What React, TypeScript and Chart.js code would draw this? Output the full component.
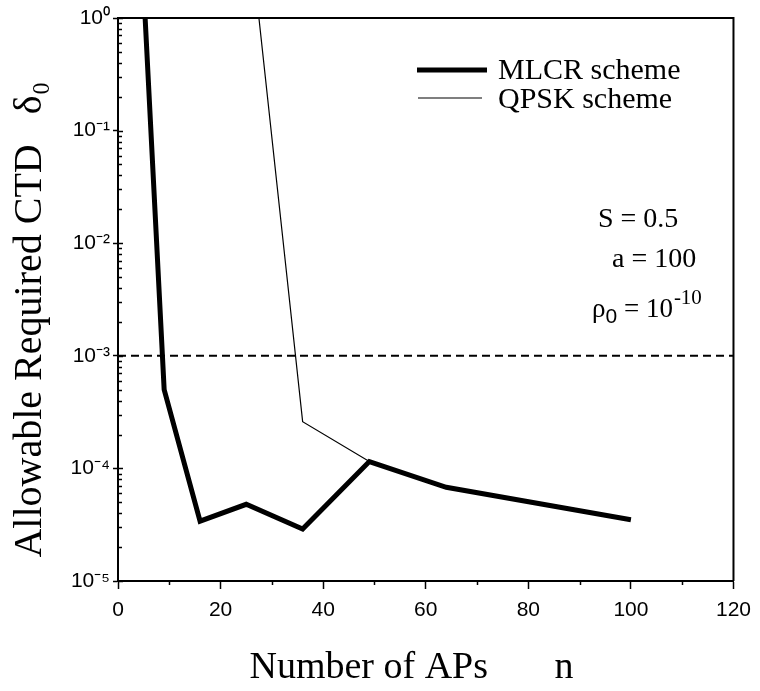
import React, { useEffect, useRef } from "react";
import { Chart, registerables } from "chart.js";

Chart.register(...registerables);

// ---- data ----
const mlcrN = [4, 9, 16, 25, 36, 49, 64, 100];
const mlcrDelta = [14, 5e-4, 3.4e-5, 4.8e-5, 2.9e-5, 1.15e-4, 6.8e-5, 3.5e-5];

const qpskN = [25, 36, 49, 64, 100];
const qpskDelta = [11, 2.6e-4, 1.15e-4, 6.8e-5, 3.5e-5];

const thresholdN = [0, 120];
const thresholdDelta = [1e-3, 1e-3];

const yTickExponents = [-5, -4, -3, -2, -1, 0];
const yTickLabels = ["10⁻⁵", "10⁻⁴", "10⁻³", "10⁻²", "10⁻¹", "10⁰"];
const xTickLabels = ["0", "20", "40", "60", "80", "100", "120"];

const legendLabels = ["MLCR scheme", "QPSK scheme"];
const paramLines = ["S = 0.5", "a = 100"];

const SERIF = '"Liberation Serif", "Times New Roman", serif';
const SANS = '"Liberation Sans", Arial, sans-serif';

function isPow10(v: number) {
  const e = Math.log10(v);
  return Math.abs(e - Math.round(e)) < 1e-9;
}

const decorPlugin = {
  id: "decor",
  afterDatasetsDraw(chart: any) {
    const { ctx, chartArea: a, scales } = chart;
    ctx.save();
    ctx.strokeStyle = "#000";
    ctx.fillStyle = "#000";
    // top and right frame
    ctx.lineWidth = 2;
    ctx.beginPath();
    ctx.moveTo(a.left, a.top);
    ctx.lineTo(a.right, a.top);
    ctx.lineTo(a.right, a.bottom);
    ctx.stroke();

    // inner ticks on y axis
    ctx.lineWidth = 1.5;
    const ys = scales.y;
    for (const t of ys.ticks) {
      const py = Math.round(ys.getPixelForValue(t.value)) + 0.5;
      const len = isPow10(t.value) ? 5 : 4;
      ctx.beginPath();
      ctx.moveTo(a.left, py);
      ctx.lineTo(a.left + len, py);
      ctx.stroke();
    }
    // minor ticks on x axis (below)
    const xs = scales.x;
    for (const t of xs.ticks) {
      if (t.value % 20 === 0) continue;
      const px = Math.round(xs.getPixelForValue(t.value)) + 0.5;
      ctx.beginPath();
      ctx.moveTo(px, a.bottom);
      ctx.lineTo(px, a.bottom + 4);
      ctx.stroke();
    }

    // legend
    ctx.lineCap = "butt";
    ctx.lineWidth = 5;
    ctx.beginPath();
    ctx.moveTo(417, 70);
    ctx.lineTo(487, 70);
    ctx.stroke();
    ctx.lineWidth = 1.2;
    ctx.beginPath();
    ctx.moveTo(418, 98);
    ctx.lineTo(482, 98);
    ctx.stroke();
    ctx.font = `30px ${SERIF}`;
    ctx.textBaseline = "alphabetic";
    ctx.textAlign = "left";
    ctx.fillText(legendLabels[0], 498, 79);
    ctx.fillText(legendLabels[1], 498, 108);

    // parameters
    ctx.font = `28px ${SERIF}`;
    ctx.fillText(paramLines[0], 598, 227);
    ctx.fillText(paramLines[1], 612, 267);

    // rho_0 = 10^-10
    let x = 592;
    const base = 317;
    ctx.font = `27px ${SERIF}`;
    ctx.fillText("ρ", x, base);
    x += ctx.measureText("ρ").width;
    ctx.font = `21px ${SANS}`;
    ctx.fillText("0", x, base + 6);
    x += ctx.measureText("0").width;
    ctx.font = `27px ${SERIF}`;
    ctx.fillText(" = 10", x, base);
    x += ctx.measureText(" = 10").width;
    ctx.font = `21px ${SERIF}`;
    ctx.fillText("-10", x + 1, base - 13);

    ctx.restore();
  },
};

export default function App() {
  const ref = useRef<HTMLCanvasElement>(null);

  useEffect(() => {
    document.body.style.margin = "0";
    const canvas = ref.current;
    if (!canvas) return;

    const chart = new Chart(canvas, {
      type: "line",
      data: {
        datasets: [
          {
            label: legendLabels[0],
            data: mlcrN.map((n, i) => ({ x: n, y: mlcrDelta[i] })),
            borderColor: "#000",
            borderWidth: 5,
            pointRadius: 0,
            tension: 0,
            fill: false,
            clip: 0,
          },
          {
            label: legendLabels[1],
            data: qpskN.map((n, i) => ({ x: n, y: qpskDelta[i] })),
            borderColor: "#000",
            borderWidth: 1.2,
            pointRadius: 0,
            tension: 0,
            fill: false,
            clip: 0,
          },
          {
            label: "threshold",
            data: thresholdN.map((n, i) => ({ x: n, y: thresholdDelta[i] })),
            borderColor: "#000",
            borderWidth: 2,
            borderDash: [8, 5],
            pointRadius: 0,
            fill: false,
            clip: 0,
          },
        ],
      },
      options: {
        animation: false,
        responsive: false,
        events: [],
        layout: { padding: { top: 18, right: 21, left: 0, bottom: 0 } },
        plugins: {
          legend: { display: false },
          tooltip: { enabled: false },
        },
        scales: {
          x: {
            type: "linear",
            min: 0,
            max: 120,
            afterFit: (s: any) => {
              s.height = 110;
            },
            ticks: {
              stepSize: 10,
              autoSkip: false,
              maxRotation: 0,
              padding: 9,
              color: "#000",
              font: { family: SANS, size: 21 },
              callback: (v: any) =>
                Number(v) % 20 === 0 ? xTickLabels[Number(v) / 20] : "",
            },
            grid: {
              drawOnChartArea: false,
              drawTicks: true,
              tickLength: 8,
              tickWidth: 1.5,
              tickColor: (c: any) =>
                c.tick && c.tick.value % 20 === 0 ? "#000" : "rgba(0,0,0,0)",
            },
            border: { display: true, color: "#000", width: 2 },
            title: {
              display: true,
              text: "Number of APs       n   ",
              color: "#000",
              font: { family: SERIF, size: 38 },
              padding: { top: 0, bottom: 0 },
            },
          },
          y: {
            type: "logarithmic",
            min: 1e-5,
            max: 1,
            afterFit: (s: any) => {
              s.width = 118;
            },
            afterBuildTicks: (s: any) => {
              const t: any[] = [];
              for (let e = -5; e <= 0; e++) {
                for (let m = 1; m <= 9; m++) {
                  const v = Number((m * Math.pow(10, e)).toPrecision(3));
                  if (v <= 1) t.push({ value: v, major: m === 1 });
                }
              }
              s.ticks = t;
            },
            ticks: {
              autoSkip: false,
              padding: 3,
              color: "#000",
              font: { family: SANS, size: 21 },
              callback: (v: any) => {
                const n = Number(v);
                if (!isPow10(n)) return "";
                const e = Math.round(Math.log10(n));
                const i = yTickExponents.indexOf(e);
                return i >= 0 ? yTickLabels[i] : "";
              },
            },
            grid: {
              drawOnChartArea: false,
              drawTicks: true,
              tickLength: 5,
              tickWidth: 1.5,
              tickColor: (c: any) =>
                c.tick && isPow10(c.tick.value) ? "#000" : "rgba(0,0,0,0)",
            },
            border: { display: true, color: "#000", width: 2 },
            title: {
              display: true,
              text: "Allowable Required CTD   δ₀    ",
              color: "#000",
              font: { family: SERIF, size: 40 },
              padding: { top: 6, bottom: 0 },
            },
          },
        },
      },
      plugins: [decorPlugin],
    } as any);

    return () => chart.destroy();
  }, []);

  return (
    <div style={{ width: 760, height: 691, position: "relative", background: "#fff" }}>
      <canvas ref={ref} width={760} height={691} style={{ display: "block" }} />
    </div>
  );
}
